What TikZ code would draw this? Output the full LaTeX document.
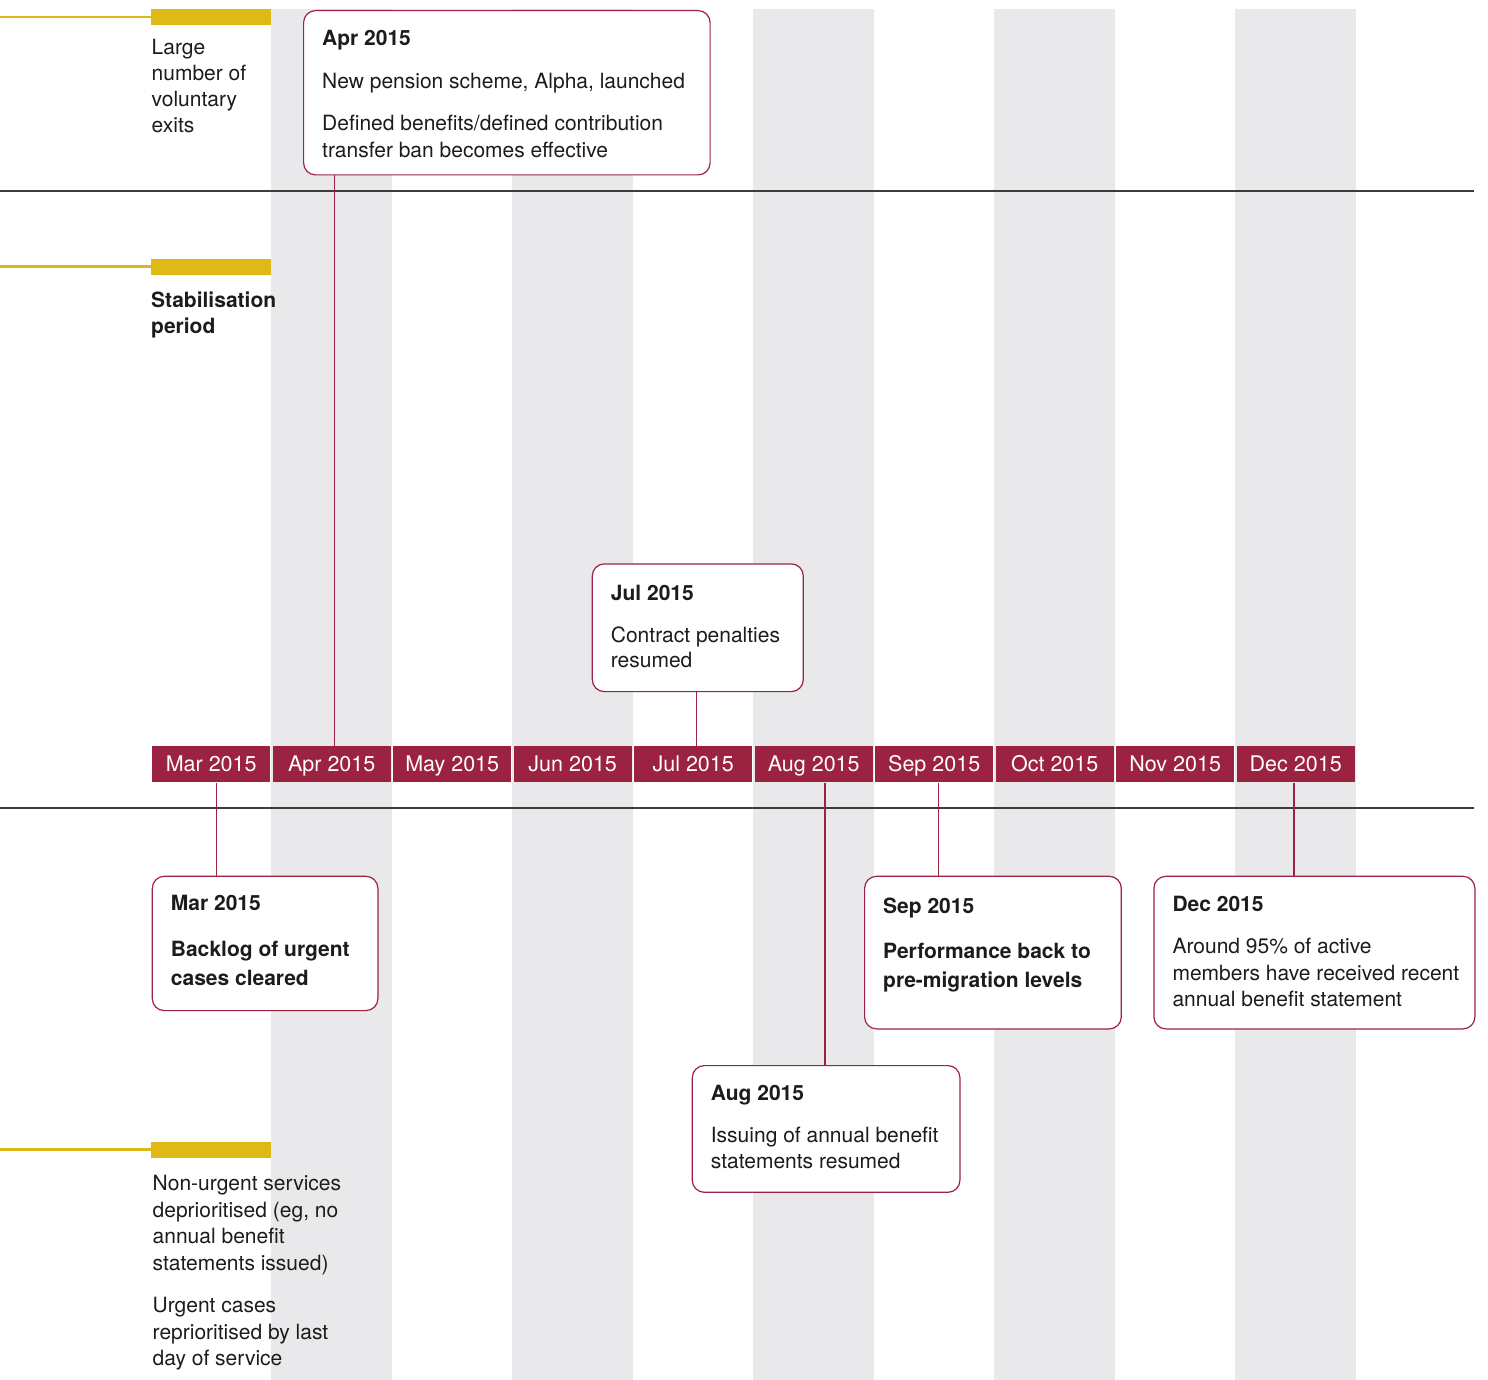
\documentclass[tikz,border=0pt]{standalone}
\usepackage{fontspec}
\setmainfont{TeX Gyre Heros}
\usetikzlibrary{positioning}
\definecolor{claret}{HTML}{9C2241}
\definecolor{stripe}{HTML}{E9E9EB}
\definecolor{mustard}{HTML}{DFB915}
\definecolor{rulegrey}{HTML}{3C3C3C}
\definecolor{ink}{HTML}{1C1C1C}

\begin{document}
\begin{tikzpicture}[x=1pt,y=-1pt,
	month/.style={fill=claret,text=white,minimum width=118pt,minimum height=36.5pt,inner sep=0pt,text height=15.4pt,text depth=0pt,font=\fontsize{21.5}{26}\selectfont},
	event/.style={draw=claret,line width=1.2pt,fill=white,rounded corners=12pt,anchor=north west,inner sep=0pt},
	eventtext/.style={align=left,inner sep=0pt,text=ink,font=\fontsize{21}{26.5}\selectfont},
	phasetext/.style={anchor=north west,align=left,inner sep=0pt,text=ink,font=\fontsize{21}{26.5}\selectfont},
	link/.style={draw=claret,line width=1.2pt},
	hrule/.style={draw=rulegrey,line width=1.3pt}]

	\useasboundingbox (0,0) rectangle (1488,1380);

	% grey stripes behind every other month
	\foreach \x in {271,512,753,994,1235}
		\fill[stripe] (\x,9) rectangle ++(121,1371);

	\draw[hrule] (0,191) -- (1474,191);
	\draw[hrule] (0,808) -- (1474,808);

	% phase markers
	\foreach \y in {17,266.7,1149.7} {
		\draw[mustard,line width=2.6pt] (0,\y) -- (151,\y);
		\fill[mustard] (151,\y-8) rectangle (271,\y+8);
	}
	\node[phasetext] (exits) at (151.5,39.3) {Large\\[-0.7pt]number of\\[-0.7pt]voluntary\\[-0.7pt]exits};
	\node[phasetext,font=\bfseries\fontsize{21}{26}\selectfont] (stab) at (151,291.5) {Stabilisation\\period};
	\node[phasetext] (deprio) at (152.5,1175) {Non-urgent services\\deprioritised (eg, no\\annual benefit\\statements issued)\\[16pt]Urgent cases\\reprioritised by last\\day of service};

	% month bar
	\foreach \m [count=\i from 0] in {Mar,Apr,May,Jun,Jul,Aug,Sep,Oct,Nov,Dec}
		\node[month] (\m) at (211.2+120.5*\i,764.2) {\m\ 2015};

	% events
	\node[event,minimum width=406.5pt,minimum height=164.3pt] (aprbox) at (303,10) {};
	\node[event,minimum width=211pt,minimum height=127.7pt] (julbox) at (591.7,563.3) {};
	\node[event,minimum width=225.6pt,minimum height=134.3pt] (marbox) at (151.7,875.7) {};
	\node[event,minimum width=256.7pt,minimum height=152.6pt] (sepbox) at (864,875.7) {};
	\node[event,minimum width=321pt,minimum height=152.6pt] (decbox) at (1153.3,875.7) {};
	\node[event,minimum width=267.6pt,minimum height=126.7pt] (augbox) at (691.7,1065) {};

	\node[eventtext,below right=20pt and 19pt of aprbox.north west] (aprtext) {\textbf{Apr 2015}\\[16pt]New pension scheme, Alpha, launched\\[16pt]Defined benefits/defined contribution\\transfer ban becomes effective};
	\node[eventtext,below right=22pt and 19pt of julbox.north west] (jultext) {\textbf{Jul 2015}\\[15pt]Contract penalties\\[-1.5pt]resumed};
	\node[eventtext,below right=19pt and 19pt of marbox.north west] (martext) {\textbf{Mar 2015}\\[20pt]\textbf{Backlog of urgent}\\[2pt]\textbf{cases cleared}};
	\node[eventtext,below right=22pt and 19pt of sepbox.north west] (septext) {\textbf{Sep 2015}\\[18.5pt]\textbf{Performance back to}\\[3pt]\textbf{pre-migration levels}};
	\node[eventtext,below right=20pt and 19pt of decbox.north west] (dectext) {\textbf{Dec 2015}\\[16pt]Around 95\% of active\\members have received recent\\annual benefit statement};
	\node[eventtext,below right=20pt and 19pt of augbox.north west] (augtext) {\textbf{Aug 2015}\\[15pt]Issuing of annual benefit\\statements resumed};

	\draw[link] ([xshift=3pt]Apr.north) -- ([xshift=3pt]Apr.north |- aprbox.south);
	\draw[link] ([xshift=3.5pt]Jul.north) -- ([xshift=3.5pt]Jul.north |- julbox.south);
	\draw[link] ([xshift=5.5pt]Mar.south) -- ([xshift=5.5pt]Mar.south |- marbox.north);
	\draw[link] ([xshift=11.3pt]Aug.south) -- ([xshift=11.3pt]Aug.south |- augbox.north);
	\draw[link] ([xshift=4pt]Sep.south) -- ([xshift=4pt]Sep.south |- sepbox.north);
	\draw[link] ([xshift=-1.7pt]Dec.south) -- ([xshift=-1.7pt]Dec.south |- decbox.north);
\end{tikzpicture}
\end{document}
